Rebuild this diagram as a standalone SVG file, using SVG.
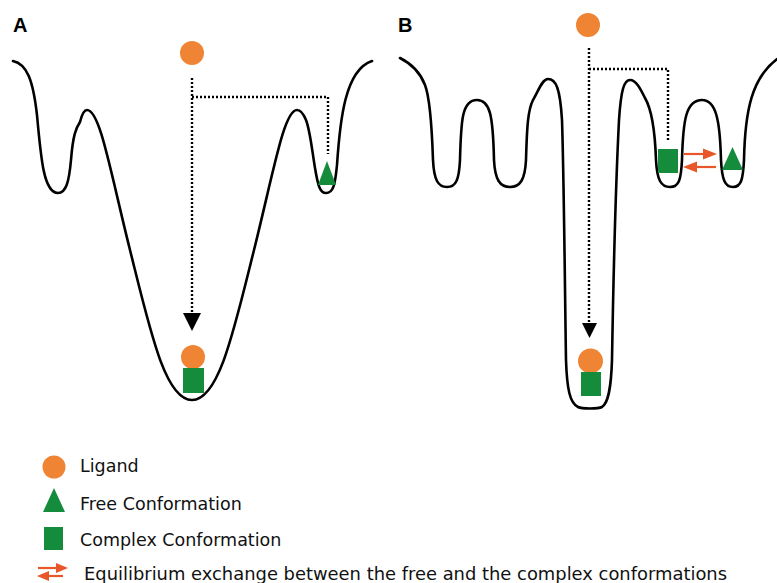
<svg xmlns="http://www.w3.org/2000/svg" width="777" height="583" viewBox="0 0 777 583">
<style>
.land{fill:none;stroke:#000;stroke-width:2.6;stroke-linejoin:round;stroke-linecap:round}
.dot{fill:none;stroke:#000;stroke-width:2.4;stroke-dasharray:2 2}
.lig{fill:#ee8434}
.grn{fill:#148c3c}
.eq{stroke:#e8562a;stroke-width:2.2;fill:none}
.eqh{fill:#e8562a}
.head{fill:#000}
.panel{font-family:"Liberation Sans",Arial,sans-serif;font-weight:bold;font-size:20px;fill:#000}
.leg{font-family:"DejaVu Sans",Verdana,sans-serif;font-size:17.5px;fill:#111}
</style>
<rect width="777" height="583" fill="#fff"/>

<!-- Panel A -->
<text class="panel" x="13" y="32">A</text>
<path id="landscapeA" class="land" d="M13,61 C27,64 33,80 37,115 C41,160 44,193 58,193 C66,193 69,182 71,160 C73,135 76,128 80,122 C82,114 84,110 87,110 C100,110 110,170 130,250 C150,330 165,400 192,400 C219,400 234,330 254,250 C274,170 284,110 297,110 C301,110 304,115 306,120 C310,130 312,150 315,168 C318,186 320,193 326,193 C333,193 335,186 337,165 C340,120 345,70 372,61"/>

<!-- Panel B -->
<text class="panel" x="398" y="32">B</text>
<path id="landscapeB" class="land" d="M400,58 C412,64 420,72 425,85 C430,98 432,130 433,160 C434,180 438,187 447,187 C456,187 459,180 460,160 C461,120 462,100 477,100 C490,100 493,115 494,160 C495,180 500,187 510,187 C520,187 525,180 526,160 C527,125 528,110 533,100 C538,92 542,79 548,79 C556,79 560,88 562,120 C564,180 565,300 566,360 C567,390 570,403 578,407 C582,409 598,409 602,407 C608,403 611,390 612,360 C613,300 616,180 619,120 C621,90 624,80 630,80 C636,80 640,88 645,98 C652,110 655,130 656,160 C657,180 661,187 670,187 C679,187 681,180 682,160 C683,120 686,100 702,100 C716,100 720,120 721,160 C722,180 725,187 733,187 C741,187 743,180 744,160 C745,110 752,78 777,59"/>

<g id="connectors">
  <!-- A -->
  <path class="dot" d="M192,78 V313"/>
  <path class="dot" d="M192,97 H328 V154"/>
  <polygon class="head" points="183,313 201,313 192,331"/>
  <!-- B -->
  <path class="dot" d="M589,48 V323"/>
  <path class="dot" d="M589,69 H668 V141"/>
  <polygon class="head" points="582,323 597,323 589.5,338"/>
  <!-- equilibrium arrows in B -->
  <g id="equilibriumB">
    <line class="eq" x1="684" y1="154" x2="705" y2="154"/>
    <polygon class="eqh" points="717,154 703,148.5 703,159.5"/>
    <line class="eq" x1="716" y1="167" x2="695" y2="167"/>
    <polygon class="eqh" points="683,167 697,161.5 697,172.5"/>
  </g>
</g>

<g id="ligandA-free"><circle class="lig" cx="192" cy="53" r="12"/></g>
<g id="freeA"><polygon class="grn" points="318,185 336,185 327,161"/></g>
<g id="complexA">
  <circle class="lig" cx="193" cy="357" r="12"/>
  <rect class="grn" x="183" y="368" width="21" height="25"/>
</g>

<g id="ligandB-free"><circle class="lig" cx="588" cy="25" r="12"/></g>
<g id="complexB-shallow"><rect class="grn" x="658" y="149" width="20" height="24"/></g>
<g id="freeB"><polygon class="grn" points="722,170 743,170 732.5,147"/></g>
<g id="complexB">
  <circle class="lig" cx="590.5" cy="361" r="12.5"/>
  <rect class="grn" x="581" y="372" width="20" height="24"/>
</g>

<!-- Legend -->
<g id="legend-ligand">
  <circle class="lig" cx="54" cy="467" r="11.5"/>
  <text class="leg" x="80" y="472">Ligand</text>
</g>
<g id="legend-free">
  <polygon class="grn" points="43,512 65,512 54,488"/>
  <text class="leg" x="80" y="510">Free Conformation</text>
</g>
<g id="legend-complex">
  <rect class="grn" x="44" y="527" width="19" height="23"/>
  <text class="leg" x="80" y="546">Complex Conformation</text>
</g>
<g id="legend-equilibrium">
  <line class="eq" x1="38" y1="568" x2="58" y2="568"/>
  <polygon class="eqh" points="68,568 56,563 56,573"/>
  <line class="eq" x1="63" y1="576" x2="46" y2="576"/>
  <polygon class="eqh" points="37,576 49,571 49,581"/>
  <text class="leg" x="84" y="580" textLength="643" lengthAdjust="spacingAndGlyphs">Equilibrium exchange between the free and the complex conformations</text>
</g>
</svg>
